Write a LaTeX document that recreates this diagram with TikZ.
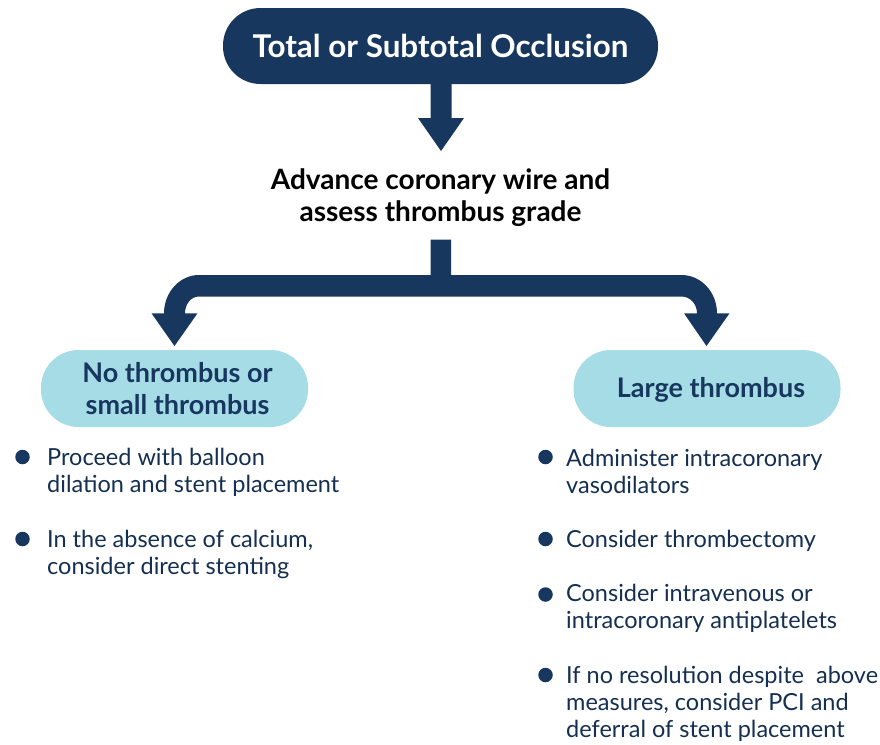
\documentclass[tikz,border=0pt]{standalone}
\usepackage{fontspec}
\setmainfont{Lato}
\definecolor{navy}{HTML}{17375F}
\definecolor{cyanb}{HTML}{A5DCE6}
\tikzset{
 pill/.style={rounded corners=#1,inner sep=0pt,outer sep=0pt},
 body/.style={anchor=west,align=left,font=\fontsize{23.5}{27}\selectfont,text=navy!85!black,inner sep=0pt},
 head/.style={font=\fontsize{27}{32}\bfseries\selectfont,align=center},
 dot/.style={circle,fill=navy,minimum size=14.5,inner sep=0pt}
}
\begin{document}
\begin{tikzpicture}[x=1pt,y=-1pt]
\useasboundingbox (0,0) rectangle (880,744);
\node[pill=37.5,fill=navy,minimum width=435,minimum height=76,text=white,font=\fontsize{31.4}{36}\bfseries\selectfont] (top) at (440.5,46) {Total or Subtotal Occlusion};
\node[head,text=black,font=\fontsize{28}{32}\bfseries\selectfont] (adv) at (440.5,197.5) {Advance coronary wire and\\assess thrombus grade};
\node[pill=37.5,fill=cyanb,minimum width=267,minimum height=77] (l) at (174.5,388.5) {};
\node[head,text=navy] (lt) at (177.5,388.5) {No thrombus or\\small thrombus};
\node[pill=37.5,fill=cyanb,minimum width=267,minimum height=77] (r) at (707,388.5) {};
\node[head,text=navy] (rt) at (711,390) {Large thrombus};
\fill[navy] (430.5,84) -- (451.5,84) -- (451.5,118) -- (464,118) -- (441,151) -- (418,118) -- (430.5,118) -- cycle;
\fill[navy] (430.5,239.5) -- (451,239.5) -- (451,275) -- (681.5,275)
 .. controls (701,275) and (717,292) .. (717,313.3) -- (729.5,313.3) -- (706.5,346) -- (684,313.3) -- (697,313.3)
 .. controls (697,304) and (690,296.5) .. (681.5,296.5) -- (199,296.5)
 .. controls (191,296.5) and (185,304) .. (185,313.3) -- (197.5,313.3) -- (174.5,346) -- (151.5,313.3) -- (164,313.3)
 .. controls (164,292) and (180,275) .. (199,275) -- (430.5,275) -- cycle;
\foreach \n/\y in {a/457,b/539}{\node[dot] (d\n) at (22.5,\y) {};}
\foreach \n/\y in {c/457,d/539,e/594.5,f/675}{\node[dot] (d\n) at (545.5,\y) {};}
\node[body] (ta) at (47,472.5) {Proceed with balloon\\dilation and stent placement};
\node[body] (tb) at (47,554.5) {In the absence of calcium,\\consider direct stenting};
\node[body] (tc) at (566,471.5) {Administer intracoronary\\vasodilators};
\node[body] (td) at (566,541) {Consider thrombectomy};
\node[body] (te) at (566,608.5) {Consider intravenous or\\intracoronary antiplatelets};
\node[body] (tf) at (566,704) {If no resolution despite\ \ above\\measures, consider PCI and\\deferral of stent placement};
\end{tikzpicture}
\end{document}
